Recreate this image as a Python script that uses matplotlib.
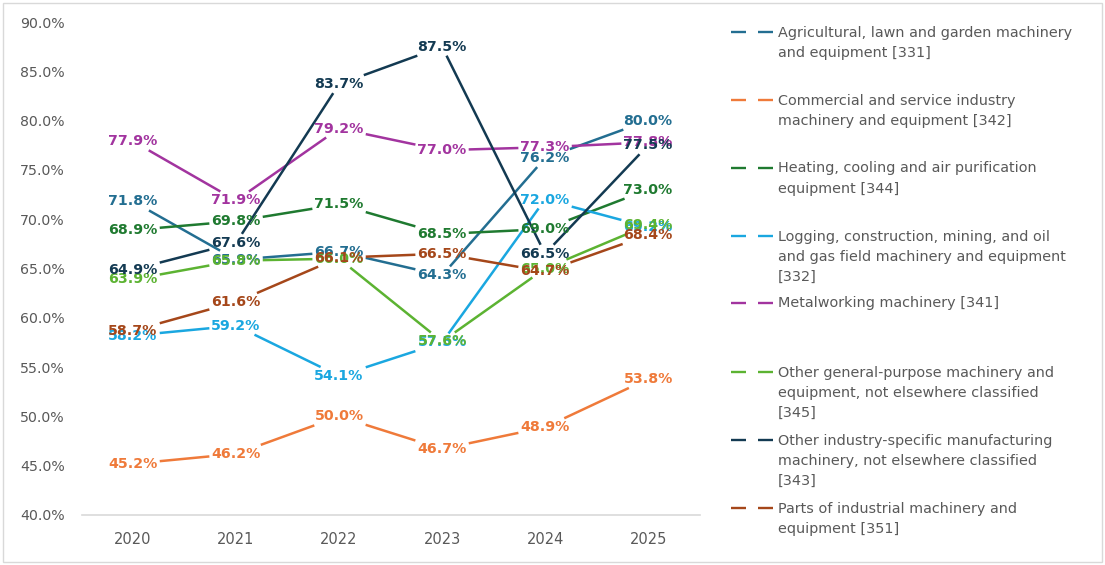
import matplotlib.pyplot as plt
import numpy as np
from matplotlib.lines import Line2D
from matplotlib.patches import Rectangle

years = ['2020', '2021', '2022', '2023', '2024', '2025']

agricultural = [71.8, 65.9, 66.7, 64.3, 76.2, 80.0]
commercial = [45.2, 46.2, 50.0, 46.7, 48.9, 53.8]
heating = [68.9, 69.8, 71.5, 68.5, 69.0, 73.0]
logging_mining = [58.2, 59.2, 54.1, 57.5, 72.0, 69.2]
metalworking = [77.9, 71.9, 79.2, 77.0, 77.3, 77.8]
general_purpose = [63.9, 65.8, 66.0, 57.6, 65.0, 69.4]
industry_specific = [64.9, 67.6, 83.7, 87.5, 66.5, 77.5]
parts = [58.7, 61.6, 66.1, 66.5, 64.7, 68.4]

series_names = [
    'Agricultural, lawn and garden machinery\nand equipment [331]',
    'Commercial and service industry\nmachinery and equipment [342]',
    'Heating, cooling and air purification\nequipment [344]',
    'Logging, construction, mining, and oil\nand gas field machinery and equipment\n[332]',
    'Metalworking machinery [341]',
    'Other general-purpose machinery and\nequipment, not elsewhere classified\n[345]',
    'Other industry-specific manufacturing\nmachinery, not elsewhere classified\n[343]',
    'Parts of industrial machinery and\nequipment [351]',
]
series_values = [agricultural, commercial, heating, logging_mining,
                 metalworking, general_purpose, industry_specific, parts]
colors = ['#236E91', '#EF7A3A', '#1F7A30', '#1AA7E0',
          '#A2349F', '#5CB332', '#133A52', '#A5471A']

GRAY = '#595959'
plt.rcParams['font.family'] = 'DejaVu Sans'

fig = plt.figure(figsize=(11.05, 5.65), dpi=100)
fig.patches.append(Rectangle((0.003, 0.005), 0.994, 0.99, transform=fig.transFigure,
                             fill=False, edgecolor='#D9D9D9', linewidth=1.0))
ax = fig.add_axes([0.0738, 0.0885, 0.5593, 0.8725])

x = np.arange(len(years))
ax.set_xlim(-0.5, len(years) - 0.5)
ax.set_ylim(40, 90)
ax.set_yticks(np.arange(40, 91, 5))
ax.set_yticklabels(['%.1f%%' % v for v in np.arange(40, 91, 5)])
ax.set_xticks(x)
ax.set_xticklabels(years)
ax.tick_params(axis='y', length=0, pad=12, labelsize=10.2, labelcolor=GRAY)
ax.tick_params(axis='x', length=0, pad=12, labelsize=10.5, labelcolor=GRAY)
for side in ['top', 'right', 'left']:
    ax.spines[side].set_visible(False)
ax.spines['bottom'].set_color('#D9D9D9')
ax.spines['bottom'].set_linewidth(1.2)

# data labels first, so the lines can stop at their edges
label_texts = []
for vals, c in zip(series_values, colors):
    texts = []
    for xi, v in zip(x, vals):
        t = ax.text(xi, v, '%.1f%%' % v, ha='center', va='center', fontsize=10.2,
                    fontweight='bold', color=c, zorder=4)
        texts.append(t)
    label_texts.append(texts)

fig.canvas.draw()
renderer = fig.canvas.get_renderer()
inv = ax.transData.inverted()
pad = 2.0

for vals, c, texts in zip(series_values, colors, label_texts):
    pts = ax.transData.transform(np.column_stack([x, vals]))
    halves = []
    for t in texts:
        bb = t.get_window_extent(renderer)
        halves.append((bb.width / 2 + pad, bb.height / 2 + pad))
    for i in range(len(pts) - 1):
        p0, p1 = pts[i], pts[i + 1]
        d = p1 - p0
        dx, dy = abs(d[0]) + 1e-9, abs(d[1]) + 1e-9
        t0 = min(halves[i][0] / dx, halves[i][1] / dy)
        t1 = min(halves[i + 1][0] / dx, halves[i + 1][1] / dy)
        if t0 + t1 >= 1:
            continue
        seg = inv.transform(np.array([p0 + d * t0, p1 - d * t1]))
        ax.plot(seg[:, 0], seg[:, 1], color=c, linewidth=1.8,
                solid_capstyle='butt', zorder=3)

# legend, laid out by hand to keep the fixed row slots
row_centers = [32, 100, 168, 236, 303, 372, 440, 508]
W, H = 1105.0, 565.0
for name, c, yp in zip(series_names, colors, row_centers):
    yf = 1 - yp / H
    for x0, x1 in [(731, 746), (758, 773)]:
        fig.add_artist(Line2D([x0 / W, x1 / W], [yf, yf], color=c, linewidth=1.7,
                              solid_capstyle='butt', transform=fig.transFigure))
    fig.text(778 / W, 1 - (yp - 6.5) / H, name, ha='left', va='top', fontsize=10.4,
             color=GRAY, linespacing=1.55, transform=fig.transFigure)

fig.savefig('out.png', dpi=100)
